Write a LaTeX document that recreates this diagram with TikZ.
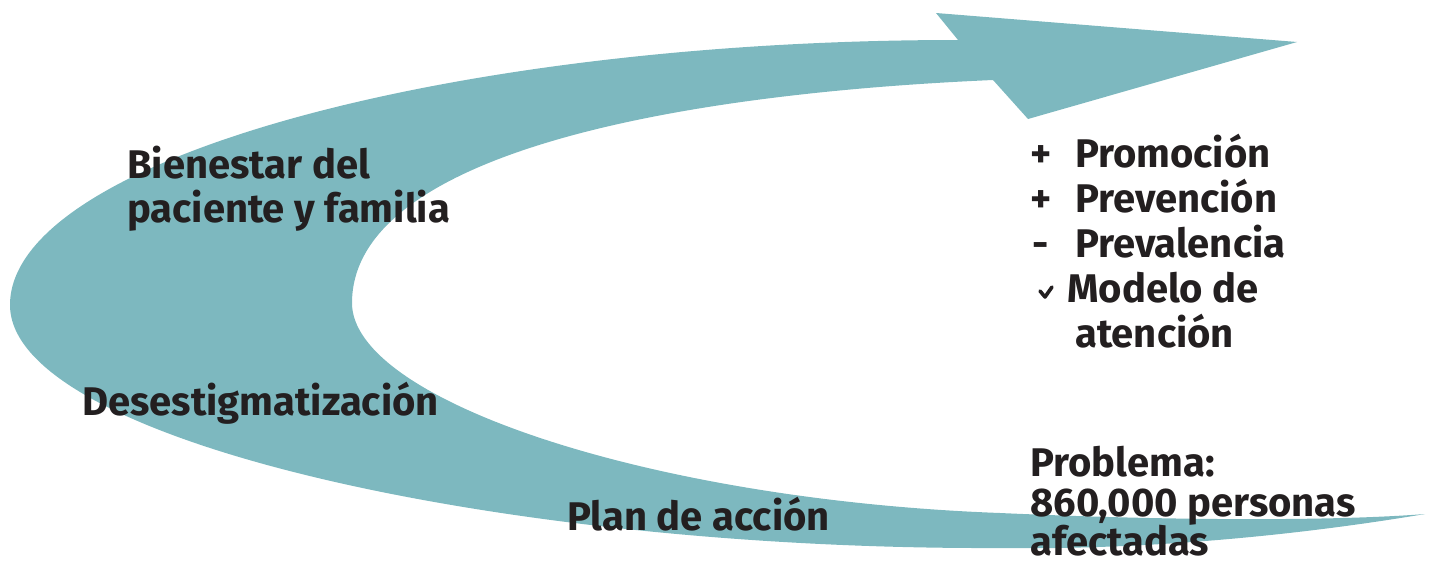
\documentclass[tikz,border=0pt]{standalone}
\usepackage{fontspec}
\setmainfont{Fira Sans}
\definecolor{band}{HTML}{7DB8BF}
\definecolor{ink}{HTML}{231F20}
\begin{document}
\begin{tikzpicture}[x=1pt,y=-1pt,
  lbl/.style={anchor=base west,inner sep=0pt,text=ink,font=\fontsize{40}{45}\selectfont\bfseries}]
\useasboundingbox (0,0) rectangle (1434,562);
% curved arrow
\fill[band] (958,40) -- (936,13) -- (1297,42) -- (1028,119) -- (993,80)
  .. controls (650,95) and (352,160) .. (352,303)
  .. controls (352,400) and (650,500) .. (1000,513)
  .. controls (1200,522) and (1350,520) .. (1425,514)
  .. controls (1300,535) and (1150,550) .. (1000,548)
  .. controls (500,550) and (10,440) .. (10,305)
  .. controls (10,160) and (450,40) .. (958,40) -- cycle;
% left labels
\node[lbl] (b1) at (127,178) {Bienestar del};
\node[lbl] (b2) at (127,222) {paciente y familia};
\node[lbl] (d) at (82,415) {Desestigmatización};
\node[lbl] (p) at (567,530) {Plan de acción};
% right list
\node[lbl] (s1) at (1030,167) {+};
\node[lbl] (r1) at (1075,167) {Promoción};
\node[lbl] (s2) at (1030,212) {+};
\node[lbl] (r2) at (1075,212) {Prevención};
\node[lbl] (s3) at (1032,257) {-};
\node[lbl] (r3) at (1075,257) {Prevalencia};
\draw[ink,line width=3.6pt,line cap=round,line join=round] (1040,291) -- (1045,297) -- (1052,287);
\node[lbl] (r4) at (1067,302) {Modelo de};
\node[lbl] (r5) at (1075,347) {atención};
% problem
\node[lbl] (q1) at (1030,476) {Problema:};
\node[lbl] (q2) at (1030,516) {860,000 personas};
\node[lbl] (q3) at (1030,555) {afectadas};
\end{tikzpicture}
\end{document}
